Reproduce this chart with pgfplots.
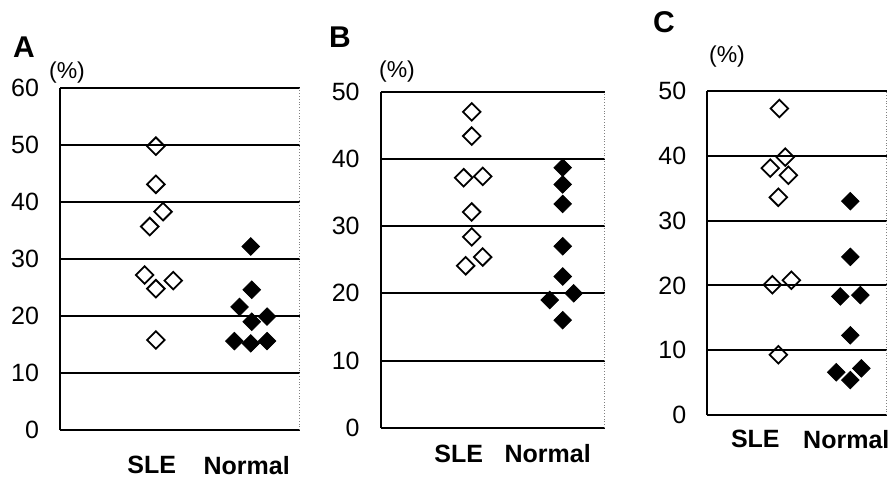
\documentclass[border=0pt]{standalone}
\usepackage{fontspec}
\setmainfont{Liberation Sans}
\usepackage{pgfplots}
\pgfplotsset{compat=1.18}

\pgfplotsset{
  panel/.style={
    scale only axis,
    anchor=south west,
    axis lines=left,
    axis line style={-, line width=1pt},
    xmin=0, ymin=0,
    ytick distance=10,
    ymajorgrids,
    major grid style={black, line width=1pt},
    major tick length=0pt,
    /pgf/number format/assume math mode=true,
    tick label style={font=\fontsize{12.5}{12.5}\selectfont},
    yticklabel style={anchor=east, xshift=-7pt},
    xticklabels={SLE,Normal},
    xticklabel style={font=\fontsize{12.5}{12.5}\selectfont\bfseries, anchor=north},
    clip=false,
  },
  sle/.style={only marks, mark=square, mark size=3.1pt,
    mark options={rotate=45, draw=black, fill=white, line width=0.9pt}},
  nor/.style={only marks, mark=square*, mark size=3.1pt,
    mark options={rotate=45, draw=black, fill=black}},
}

\begin{document}
\begin{tikzpicture}
\useasboundingbox (0,0) rectangle (446pt,242pt);

% panel A
\begin{axis}[panel, at={(30pt,27pt)}, width=117.5pt, height=171pt,
  xmax=235, ymax=60, xtick={90,183}, xticklabel style={yshift=-9.5pt}]
\addplot[sle] coordinates {(94,49.8) (94,43.1) (101,38.3) (88,35.7)
  (83,27.2) (94,24.8) (111,26.2) (94,15.8)};
\addplot[nor] coordinates {(187,32.2) (188,24.6) (176,21.6) (188,19.0)
  (203,19.9) (171,15.6) (187,15.2) (203,15.6)};
\draw[densely dotted, gray] (rel axis cs:1,0) -- (rel axis cs:1,1);
\end{axis}

% panel B
\begin{axis}[panel, at={(190.35pt,28.15pt)}, width=112pt, height=168pt,
  xmax=224, ymax=50, xtick={78,167}, xticklabel style={yshift=-5pt}]
\addplot[sle] coordinates {(91,47.0) (91,43.4) (83,37.2) (102,37.4)
  (91,32.1) (91,28.4) (102,25.4) (85,24.1)};
\addplot[nor] coordinates {(182,38.7) (182,36.2) (182,33.3) (182,27.0)
  (182,22.5) (169,19.0) (193,20.0) (182,16.0)};
\draw[densely dotted, gray] (rel axis cs:1,0) -- (rel axis cs:1,1);
\end{axis}

% panel C
\begin{axis}[panel, at={(353.65pt,34.5pt)}, width=89.7pt, height=162pt,
  xmax=179.4, ymax=50, xtick={48,139}, xticklabel style={yshift=-4pt}]
\addplot[sle] coordinates {(72,47.3) (78,39.8) (63,38.1) (81,37.0)
  (71,33.6) (65,20.1) (84,20.8) (71,9.3)};
\addplot[nor] coordinates {(143,33.0) (143,24.4) (133,18.3) (153,18.5)
  (143,12.3) (129,6.6) (143,5.4) (154,7.2)};
\draw[densely dotted, gray] (rel axis cs:1,0) -- (rel axis cs:1,1);
\end{axis}

% panel letters and units
\begin{scope}[every node/.style={font=\fontsize{15}{15}\selectfont\bfseries}]
\node at (12pt,218.5pt) {A};
\node at (170pt,223.5pt) {B};
\node at (332pt,231pt) {C};
\end{scope}
\begin{scope}[every node/.style={font=\fontsize{11.5}{11.5}\selectfont}]
\node at (33.5pt,205.5pt) {(\%)};
\node at (198.5pt,206pt) {(\%)};
\node at (363.5pt,213.5pt) {(\%)};
\end{scope}
\end{tikzpicture}
\end{document}
